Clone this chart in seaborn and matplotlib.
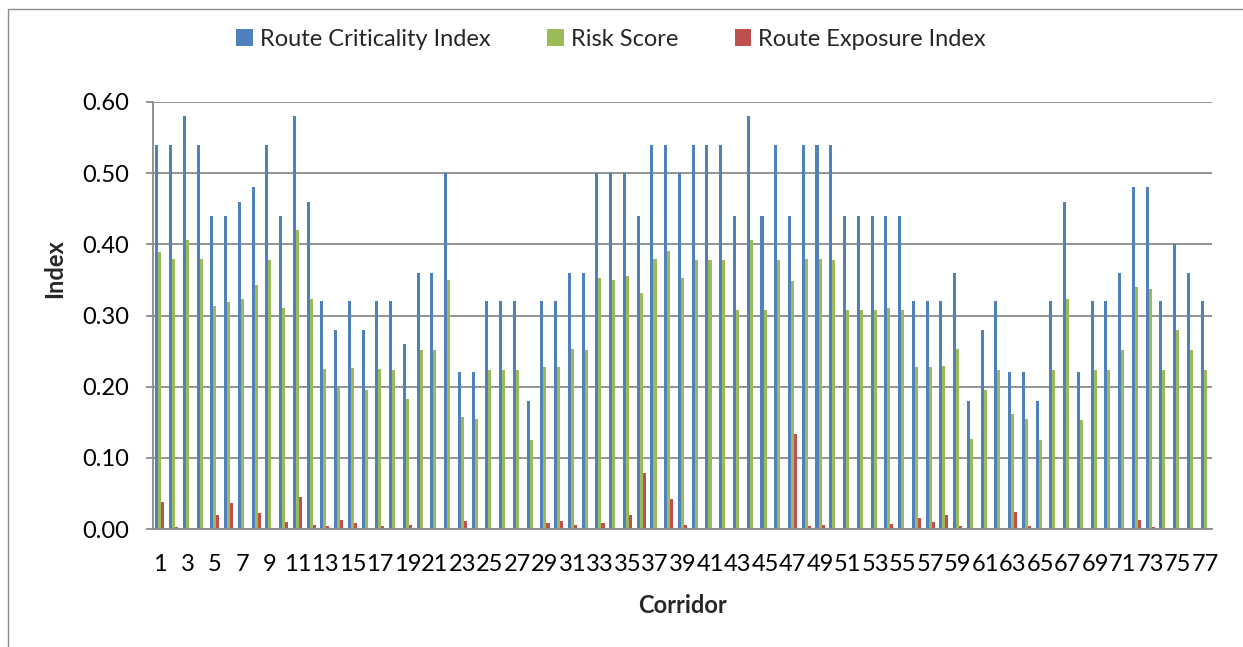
import matplotlib
matplotlib.use("Agg")
import matplotlib.pyplot as plt
from matplotlib.patches import Rectangle, Patch
from matplotlib.ticker import FixedLocator, FormatStrFormatter
import numpy as np
import pandas as pd
import seaborn as sns

corridors = [str(i) for i in range(1, 78)]

route_criticality = [
    0.54, 0.54, 0.58, 0.54, 0.44, 0.44, 0.46, 0.48, 0.54, 0.44,
    0.58, 0.46, 0.32, 0.28, 0.32, 0.28, 0.32, 0.32, 0.26, 0.36,
    0.36, 0.50, 0.22, 0.22, 0.32, 0.32, 0.32, 0.18, 0.32, 0.32,
    0.36, 0.36, 0.50, 0.50, 0.50, 0.44, 0.54, 0.54, 0.50, 0.54,
    0.54, 0.54, 0.44, 0.58, 0.44, 0.54, 0.44, 0.54, 0.54, 0.54,
    0.44, 0.44, 0.44, 0.44, 0.44, 0.32, 0.32, 0.32, 0.36, 0.18,
    0.28, 0.32, 0.22, 0.22, 0.18, 0.32, 0.46, 0.22, 0.32, 0.32,
    0.36, 0.48, 0.48, 0.32, 0.40, 0.36, 0.32,
]

risk_score = [
    0.389, 0.379, 0.406, 0.379, 0.314, 0.319, 0.323, 0.343, 0.378, 0.310,
    0.420, 0.323, 0.225, 0.199, 0.226, 0.195, 0.225, 0.224, 0.183, 0.251,
    0.251, 0.350, 0.157, 0.154, 0.223, 0.223, 0.224, 0.125, 0.227, 0.228,
    0.253, 0.252, 0.353, 0.350, 0.356, 0.332, 0.379, 0.390, 0.352, 0.378,
    0.378, 0.378, 0.308, 0.406, 0.308, 0.378, 0.349, 0.379, 0.380, 0.378,
    0.308, 0.308, 0.308, 0.310, 0.308, 0.228, 0.227, 0.229, 0.253, 0.126,
    0.195, 0.223, 0.161, 0.155, 0.125, 0.223, 0.323, 0.153, 0.223, 0.223,
    0.252, 0.340, 0.337, 0.223, 0.280, 0.251, 0.223,
]

route_exposure = [
    0.0375, 0.003, 0.0, 0.002, 0.020, 0.037, 0.002, 0.0225, 0.0, 0.0094,
    0.045, 0.005, 0.004, 0.012, 0.008, 0.0, 0.004, 0.0, 0.005, 0.0,
    0.0, 0.0, 0.011, 0.002, 0.0, 0.0, 0.0, 0.0, 0.009, 0.011,
    0.005, 0.002, 0.009, 0.0, 0.019, 0.078, 0.002, 0.042, 0.006, 0.002,
    0.0, 0.0, 0.0, 0.0, 0.001, 0.0, 0.133, 0.004, 0.006, 0.0,
    0.0, 0.0, 0.0, 0.0075, 0.0, 0.016, 0.010, 0.019, 0.004, 0.0,
    0.0, 0.0, 0.024, 0.004, 0.0, 0.0, 0.001, 0.0, 0.0, 0.0,
    0.002, 0.013, 0.003, 0.0, 0.0, 0.0, 0.0,
]

series_names = ["Route Criticality Index", "Risk Score", "Route Exposure Index"]
series_colors = ["#4F81BD", "#9BBB59", "#C0504D"]
y_ticks = [0.0, 0.1, 0.2, 0.3, 0.4, 0.5, 0.6]

df = pd.DataFrame({
    "Corridor": corridors * 3,
    "Index": route_criticality + risk_score + route_exposure,
    "Series": np.repeat(series_names, len(corridors)),
})
df["Corridor"] = pd.Categorical(df["Corridor"], categories=corridors, ordered=True)

sns.set_style("white")
plt.rcParams["font.family"] = ["Lato", "DejaVu Sans"]
FS = 17

fig = plt.figure(figsize=(12.43, 6.47), dpi=100)
ax = fig.add_axes([153 / 1243, 1 - 529 / 647, (1212 - 153) / 1243, (529 - 102) / 647])

sns.barplot(
    data=df, x="Corridor", y="Index", hue="Series",
    order=corridors, hue_order=series_names, palette=series_colors,
    width=0.66, dodge=True, saturation=1, linewidth=0, ax=ax, legend=False,
)

grid_color = "#8a8a8a"
ax.set_ylim(0, 0.6)
ax.set_xlim(-0.5, len(corridors) - 0.5)
ax.set_yticks(y_ticks)
ax.yaxis.set_major_formatter(FormatStrFormatter("%.2f"))
ax.yaxis.grid(True, color=grid_color, linewidth=1.3)
ax.set_axisbelow(True)

# odd corridor numbers labelled, tick marks between categories
ax.set_xticks(range(0, len(corridors), 2))
ax.set_xticklabels(corridors[::2])
ax.xaxis.set_minor_locator(FixedLocator(np.arange(-0.5, len(corridors), 1.0)))
ax.tick_params(axis="x", which="major", length=0, pad=18, labelsize=FS, colors="black")
ax.tick_params(axis="x", which="minor", length=6, width=1.3, color=grid_color, direction="out")
ax.tick_params(axis="y", which="major", length=5, width=1.3, color=grid_color,
               direction="out", pad=12, labelsize=FS, labelcolor="black", left=True)

for side in ["top", "right"]:
    ax.spines[side].set_visible(False)
for side in ["left", "bottom"]:
    ax.spines[side].set_color(grid_color)
    ax.spines[side].set_linewidth(1.3)

ax.set_xlabel("Corridor", fontsize=FS, fontweight="bold")
ax.set_ylabel("Index", fontsize=FS, fontweight="bold")
ax.xaxis.set_label_coords(0.5, -0.153)
ax.yaxis.set_label_coords(-0.082, 0.609)

handles = [Patch(facecolor=c, edgecolor="none") for c in series_colors]
fig.legend(
    handles, series_names, loc="center", bbox_to_anchor=(611 / 1243, 1 - 39 / 647),
    ncol=3, frameon=False, fontsize=FS, handlelength=0.7, handleheight=0.7,
    handletextpad=0.3, columnspacing=2.4,
)

# chart-area frame
fig.patches.append(Rectangle((8 / 1243, -0.1), 1.2, 1.1 - 9 / 647,
                             transform=fig.transFigure, fill=False,
                             edgecolor="#8c8c8c", linewidth=1.0))

fig.savefig("out.png", dpi=100)
